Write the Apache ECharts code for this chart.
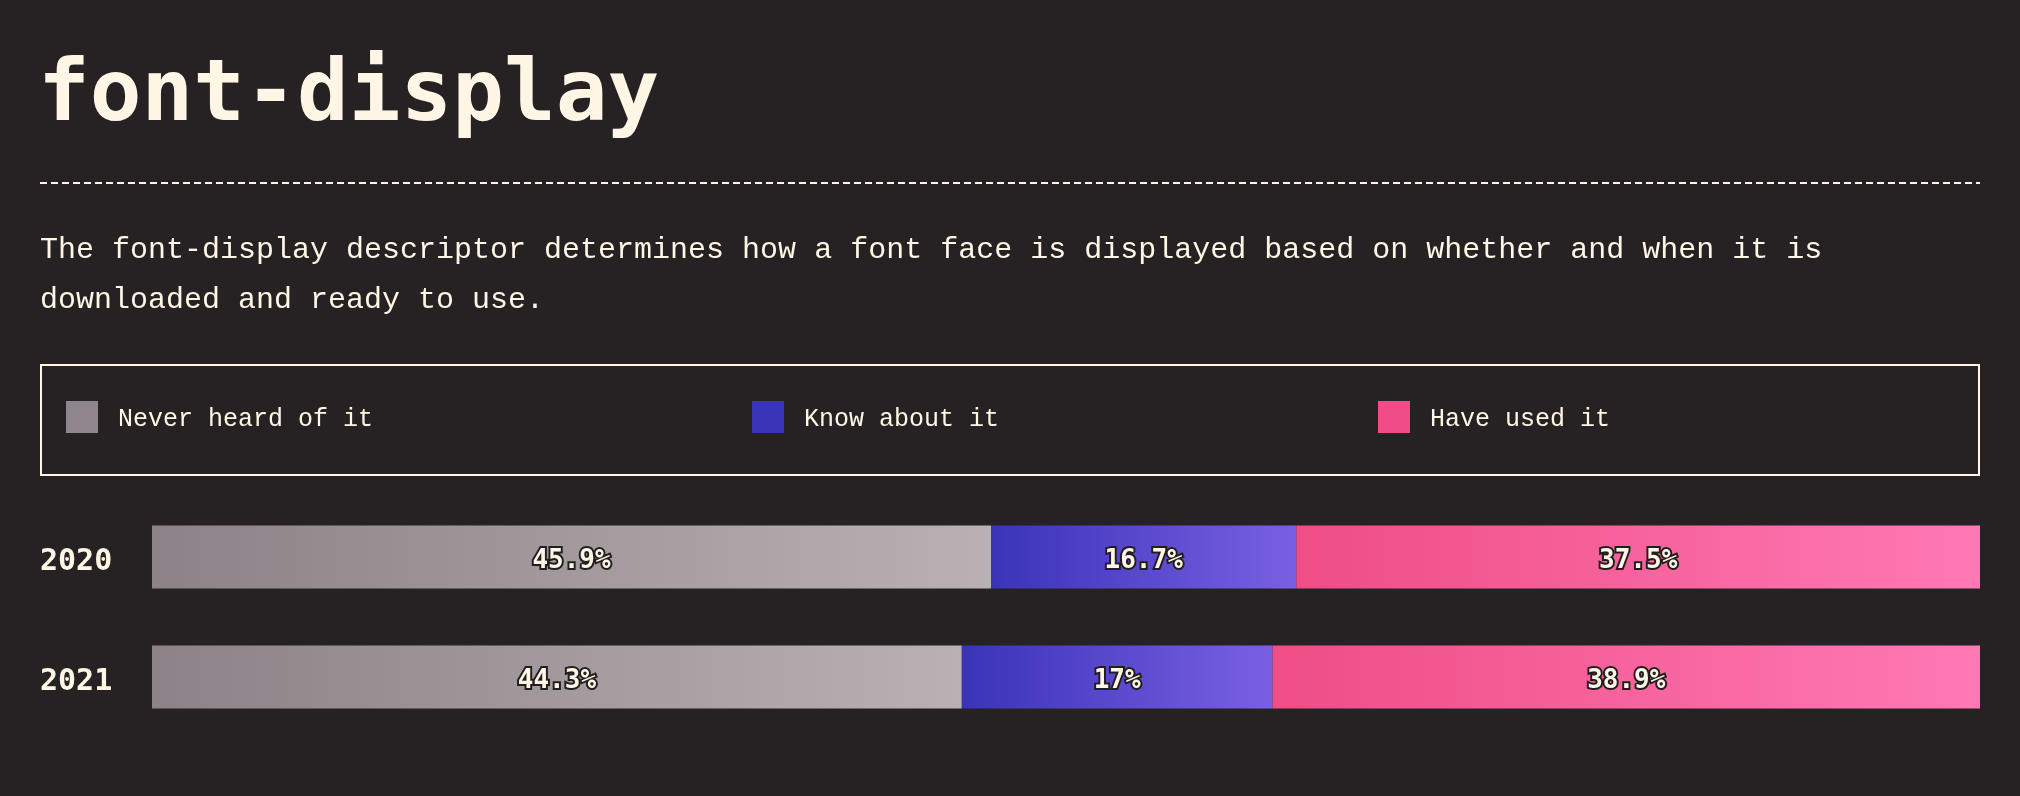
<!DOCTYPE html>
<html>
<head>
<meta charset="utf-8">
<script src="https://cdn.jsdelivr.net/npm/echarts@6/dist/echarts.min.js"></script>
<style>
html,body{margin:0;padding:0;background:#262223;}
#c{width:2020px;height:796px;}
</style>
</head>
<body>
<div id="c"></div>
<script>
const categories = ['2020', '2021'];
const seriesNames = ['Never heard of it', 'Know about it', 'Have used it'];
const neverHeard = [45.9, 44.3];
const knowAbout = [16.7, 17];
const haveUsed = [37.5, 38.9];
const titleText = 'font-display';
const descText = 'The font-display descriptor determines how a font face is displayed based on whether and when it is\ndownloaded and ready to use.';

const BG = '#262223';
const CREAM = '#fff6e6';
const gradStops = [
  ['#8c8287', '#b9b1b3'],
  ['#3a33b8', '#7960e2'],
  ['#ef4d86', '#ff79b4']
];
const legendColors = ['#8e868b', '#3a34b8', '#f04d88'];
const valuesList = [neverHeard, knowAbout, haveUsed];

const chart = echarts.init(document.getElementById('c'));

const series = seriesNames.map((name, i) => ({
  name: name,
  type: 'bar',
  stack: 'total',
  barWidth: 63,
  data: valuesList[i],
  itemStyle: {
    color: new echarts.graphic.LinearGradient(0, 0, 1, 0, [
      { offset: 0, color: gradStops[i][0] },
      { offset: 1, color: gradStops[i][1] }
    ])
  },
  label: {
    show: true,
    position: 'inside',
    offset: [0, 4],
    formatter: '{c}%',
    fontFamily: 'DejaVu Sans Mono',
    fontWeight: 'bold',
    fontSize: 26,
    color: CREAM,
    textBorderColor: '#221e1f',
    textBorderWidth: 4
  },
  emphasis: { disabled: true }
}));

// square icon sitting at the top of a slightly taller item box, so the text lands a bit lower
const iconPath = 'path://M0,0h32v32h-32zM0,37h0.01';
const legendLefts = [66, 752, 1378];
const legends = seriesNames.map((name, i) => ({
  left: legendLefts[i],
  top: 401,
  padding: 0,
  itemWidth: 32,
  itemHeight: 37,
  icon: iconPath,
  selectedMode: false,
  data: [{ name: name, itemStyle: { color: legendColors[i] } }],
  textStyle: {
    color: CREAM,
    fontFamily: 'Liberation Mono',
    fontSize: 25,
    padding: [0, 0, 0, 15]
  }
}));

chart.setOption({
  backgroundColor: BG,
  animation: false,
  title: [
    {
      text: titleText,
      left: 38,
      top: 55,
      padding: 0,
      textStyle: {
        color: CREAM,
        fontFamily: 'DejaVu Sans Mono',
        fontWeight: 'bold',
        fontSize: 86
      }
    },
    {
      text: descText,
      left: 40,
      top: 225,
      padding: 0,
      textStyle: {
        color: CREAM,
        fontFamily: 'Liberation Mono',
        fontWeight: 'normal',
        fontSize: 30,
        lineHeight: 50
      }
    }
  ],
  graphic: [
    {
      type: 'line',
      shape: { x1: 40, y1: 183, x2: 1980, y2: 183 },
      style: { stroke: CREAM, lineWidth: 2, lineDash: [7, 4] },
      silent: true
    },
    {
      type: 'rect',
      shape: { x: 41, y: 365, width: 1938, height: 110 },
      style: { fill: 'none', stroke: CREAM, lineWidth: 2 },
      silent: true
    }
  ],
  legend: legends,
  grid: { left: 152, right: 40, top: 497, height: 240 },
  xAxis: {
    type: 'value',
    min: 0,
    max: 100,
    show: false
  },
  yAxis: {
    type: 'category',
    data: categories,
    inverse: true,
    axisLine: { show: false },
    axisTick: { show: false },
    splitLine: { show: false },
    axisLabel: {
      align: 'left',
      verticalAlign: 'top',
      lineHeight: 10,
      margin: 112,
      color: CREAM,
      fontFamily: 'DejaVu Sans Mono',
      fontWeight: 'bold',
      fontSize: 30
    }
  },
  series: series
});
</script>
</body>
</html>
